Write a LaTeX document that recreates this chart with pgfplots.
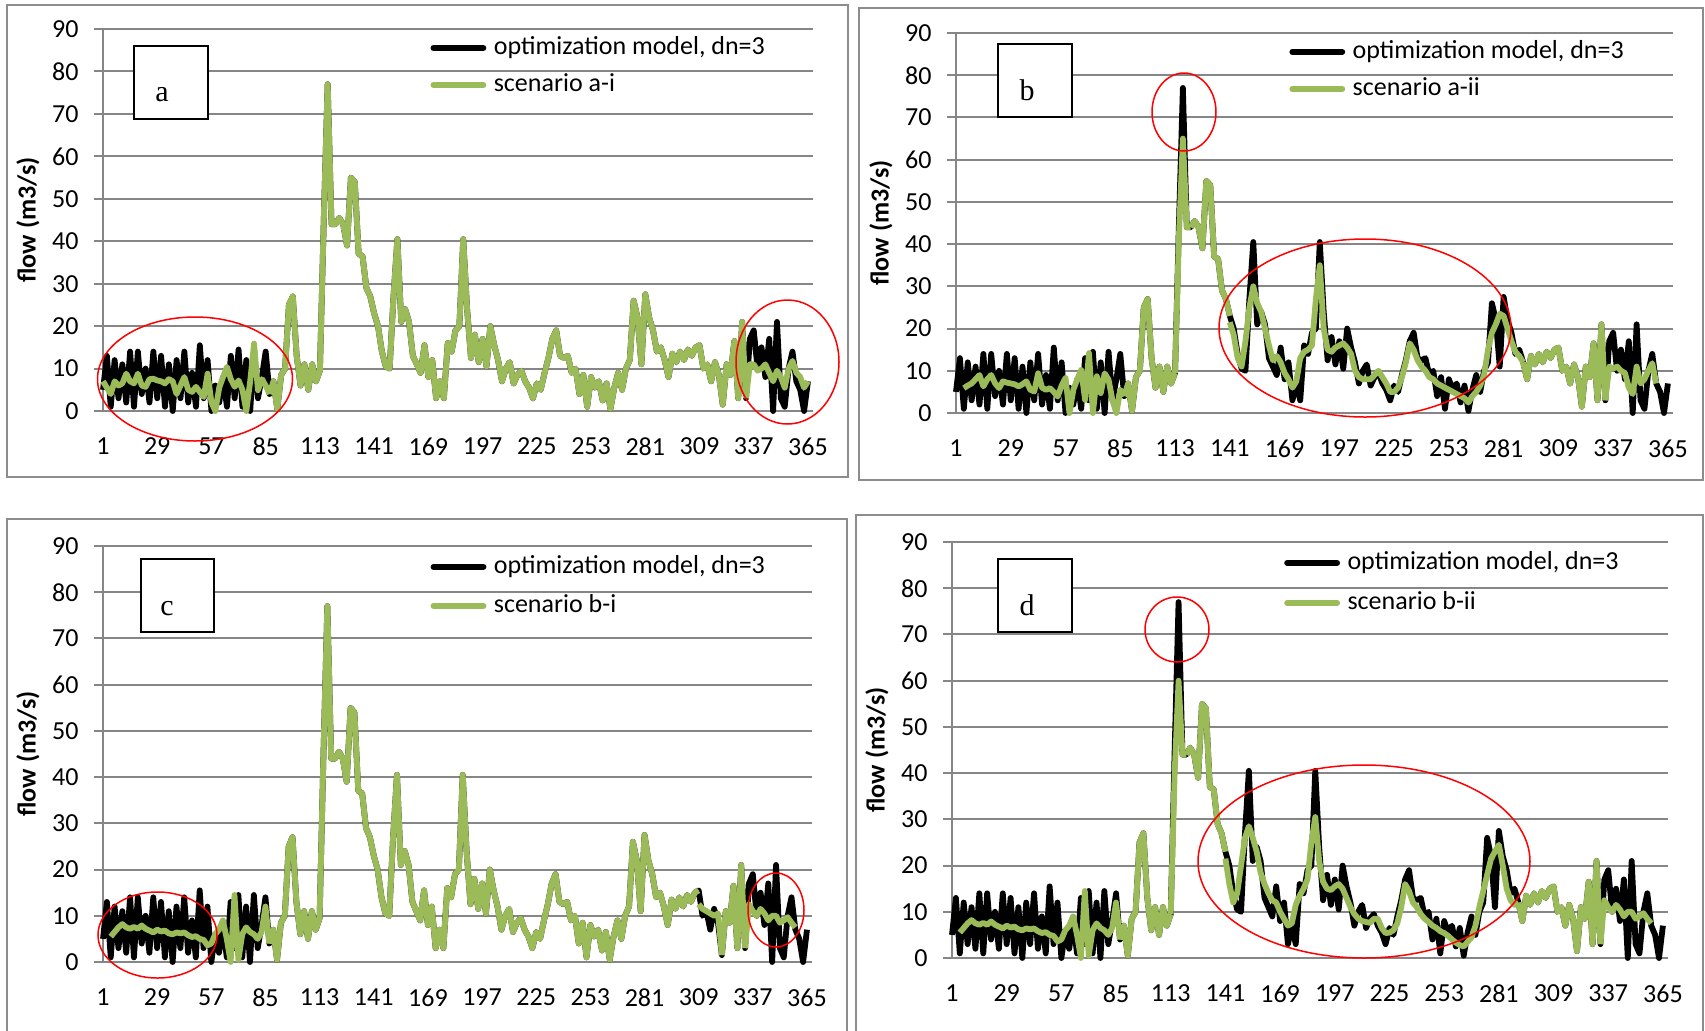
\documentclass[border=0pt]{standalone}
\usepackage{fontspec}
\setmainfont{Carlito}
\newfontfamily\tnr{Liberation Serif}
\usepackage{pgfplots}
\usepackage{pgfplotstable}
\pgfplotsset{compat=1.18}
\definecolor{grn}{RGB}{155,187,89}
\definecolor{gridgray}{RGB}{134,134,134}
\definecolor{framegray}{RGB}{140,140,140}

% optimization model, dn=3 (same in all four panels)
\pgfplotstableread{
x y
1 5
3 13
5 1
7 12
9 3
11 11
13 2
15 14
17 1
19 14
21 4
23 10
25 2
27 14
29 3
31 13
33 1
35 11
37 0
39 12
41 3
43 14
45 2
47 9
49 1
51 15.5
53 3
55 12
57 0
59 6
61 2
63 8
65 1
67 13
69 3
71 14.5
73 1
75 12
77 0
79 14.5
81 3
83 8
85 14
87 4
89 7
91 0.5
93 8.5
95 10
97 25
99 27
101 13
103 6
105 11
107 5
109 11
111 7
113 9.5
115 45
117 77
119 44
121 44
123 45.5
125 44
127 39
129 55
131 54
133 37
135 36.5
137 29
139 27
141 23
143 20
145 14
147 10.5
149 10
151 27
153 40.5
155 21
157 24
159 21
161 13
163 11
165 9
167 15.5
169 8
171 12
173 3
175 7
177 3
179 16
181 14
183 19
185 20
187 40.5
189 24
191 12.5
193 18
195 11.5
197 17
199 10.5
201 20
203 15.5
205 12
207 7
209 10
211 11.5
213 6.5
215 8.5
217 9.5
219 7
221 5.5
223 3
225 6.5
227 5
229 9
231 12.5
233 17
235 19
237 13
239 12.5
241 13
243 9
245 10
247 4
249 8.5
251 1
253 8
255 5.5
257 7
259 2.5
261 6.5
263 0.5
265 5.5
267 9
269 5
271 10
273 12
275 26
277 22
279 11
281 27.5
283 22
285 19
287 14
289 15
291 12
293 8
295 13.5
297 11.5
299 14
301 12
303 14.5
305 13
307 15
309 15.5
311 10
313 11
315 7
317 11.5
319 8.5
321 1.5
323 11
325 8.5
327 16.5
329 3
331 21
333 3
335 17
337 19
339 10
341 15
343 8
345 17
347 0
349 21
351 3
353 1
355 10
357 14
359 7
361 5
363 0
365 7
}\base

\pgfplotsset{
 panel/.style={
  scale only axis, anchor=south west, clip=false,
  xmin=1, xmax=367.6, ymin=0, ymax=90,
  xtick={1,29,...,365}, ytick={0,10,...,90},
  axis x line*=bottom, axis y line*=left,
  axis line style={gridgray, line width=1pt},
  ymajorgrids, grid style={gridgray, line width=1pt},
  tick align=outside, major tick length=4.5pt,
  major tick style={gridgray, line width=1pt},
  major x tick style={draw=none},
  tick label style={font=\fontsize{13}{15}\selectfont},
  yticklabel style={xshift=-4.2pt},
  xticklabel style={yshift=-5.5pt},
  /pgf/number format/assume math mode=true,
  ylabel={flow (m3/s)},
  every axis y label/.style={at={([xshift=-37.5pt]axis description cs:0,0.5)}, rotate=90, anchor=center, font=\fontsize{13}{15}\selectfont\bfseries},
  legend image code/.code={\draw[##1, line cap=round] (0pt,0pt) -- (25pt,0pt);},
  legend cell align=left,
  legend style={draw=none, fill=none, inner sep=0pt, outer sep=0pt, anchor=north west, column sep=3.75pt, font=\fontsize{13}{15}\selectfont, nodes={inner sep=0pt, text height=9.5pt, text depth=3pt}},
 },
 blk/.style={black, line width=2.9pt, line join=round},
 gr/.style={grn, line width=2.9pt, line join=round},
}

\begin{document}
\begin{tikzpicture}
\useasboundingbox (0,0) rectangle (852.5pt,-515pt);

% ---------------- panel a ----------------
\begin{axis}[panel, at={(51.5pt,-205.5pt)}, width=355pt, height=191pt,
  legend style={at={(axis description cs:0.4613,0.983)}, row sep=6pt}]
\addplot[blk] table {\base};
\addlegendentry{optimization model, dn=3}
\addplot[gr] coordinates {(1,7) (3,5.5) (5,4) (7,7) (9,6) (11,6.5) (13,8.8) (15,7) (17,6.5) (19,8.8) (21,6) (23,5.7) (25,7.5) (27,7.6) (29,7.2) (31,7) (33,6.5) (35,7.5) (37,7) (39,4) (41,6) (43,8) (45,5) (47,4.5) (49,5.7) (51,4.5) (53,3.3) (55,8.8) (57,2) (59,0) (61,5.5) (63,8) (65,10.4) (67,7.5) (69,5.7) (71,7.2) (73,5) (75,0) (77,7) (79,15.9) (81,4.9) (83,7.5) (85,6) (87,4)};
\addlegendentry{scenario a-i}
\addplot[gr, forget plot, restrict x to domain=87:333] table {\base};
\addplot[gr, forget plot] coordinates {(333,3) (335,11) (337,11) (339,9.5) (341,10) (343,11) (345,9) (347,7) (349,9.5) (351,8) (353,5.5) (355,10) (357,11.8) (359,9) (361,8) (363,5.5) (365,7)};
\end{axis}

% ---------------- panel b ----------------
\begin{axis}[panel, at={(478pt,-206.5pt)}, width=358.5pt, height=190pt,
  legend style={at={(axis description cs:0.465,0.983)}, row sep=6pt}]
\addplot[blk] table {\base};
\addlegendentry{optimization model, dn=3}
\addplot[gr] coordinates {(5,5.9) (7,6.5) (9,7) (11,8) (13,9) (15,6.3) (17,8) (19,9) (21,7) (23,5.9) (25,7.5) (27,7.2) (29,7) (31,6.8) (33,6.3) (35,6.8) (37,7.5) (39,5.5) (41,5.1) (43,9.4) (45,6) (47,5.5) (49,5.9) (51,5) (53,3.9) (55,6.5) (57,8.3) (59,0) (61,5.5) (63,8) (65,10.2) (67,3.1) (69,14.2) (71,0) (73,8.7) (75,4.7) (77,9.4) (79,7.9) (81,3) (83,0) (85,5.5) (87,4)};
\addlegendentry{scenario a-ii}
\addplot[gr, forget plot, restrict x to domain=87:113] table {\base};
\addplot[gr, forget plot] coordinates {(113,9.5) (115,42) (117,65) (119,44) (121,44)};
\addplot[gr, forget plot, restrict x to domain=121:141] table {\base};
\addplot[gr, forget plot] coordinates {(141,21.5) (143,18.5) (145,13) (147,11) (149,17) (151,25) (153,30) (155,26) (157,24) (159,20) (161,16) (163,12.5) (165,13.5) (167,12) (169,9.5) (171,8) (173,6) (175,7.5) (177,13) (179,14.5) (181,15) (183,16) (185,27) (187,35) (189,20) (191,15) (193,14.5) (195,15.5) (197,16) (199,16.5) (201,15.5) (203,14) (205,10) (207,8.5) (209,8) (211,8) (213,8) (215,9) (217,10) (219,8.5) (221,7) (223,5) (225,5) (227,6) (229,8.5) (231,12) (233,16.5) (235,15) (237,12.5) (239,11) (241,10) (243,8.5) (245,8) (247,7) (249,6.5) (251,6) (253,5.5) (255,5) (257,4.5) (259,4) (261,3.5) (263,2.5) (265,4) (267,5) (269,6.5) (271,9) (273,15) (275,19) (277,21) (279,23.5) (281,23) (283,20) (285,17) (287,14.5) (289,13.5) (291,12)};
\addplot[gr, forget plot, restrict x to domain=291:333] table {\base};
\addplot[gr, forget plot] coordinates {(333,3) (335,11) (337,10.5) (339,11) (341,10) (343,9.5) (345,6) (347,4.5) (349,11) (351,7) (353,8) (355,10) (357,11.8) (359,7)};
\end{axis}

% ---------------- panel c ----------------
\begin{axis}[panel, at={(51.5pt,-481pt)}, width=354.5pt, height=208pt,
  legend style={at={(axis description cs:0.462,0.980)}, row sep=7pt}]
\addplot[blk] table {\base};
\addlegendentry{optimization model, dn=3}
\addplot[gr] coordinates {(5,5.5) (7,6.5) (9,7.5) (11,8.2) (13,7.5) (15,7.2) (17,7.6) (19,7.2) (21,7.9) (23,7.2) (25,6.8) (27,6.4) (29,7) (31,6.6) (33,6.8) (35,6.2) (37,6) (39,6.4) (41,6.2) (43,6.4) (45,5.8) (47,5.4) (49,5.6) (51,5) (53,4.8) (55,3.6) (57,4) (59,6) (61,7) (63,9) (65,5) (67,0) (69,14.5) (71,0.5) (73,6) (75,7.5) (77,6.5) (79,6) (81,5) (83,6.5) (85,12) (87,4)};
\addlegendentry{scenario b-i}
\addplot[gr, forget plot, restrict x to domain=87:309] table {\base};
\addplot[gr, forget plot] coordinates {(309,12.5) (311,11.5) (313,11) (315,10.5) (317,10) (319,10.5) (321,1.5)};
\addplot[gr, forget plot, restrict x to domain=321:333] table {\base};
\addplot[gr, forget plot] coordinates {(333,3) (335,12.5) (337,11) (339,10) (341,11.5) (343,10.5) (345,9) (347,10) (349,10) (351,8.5) (353,9) (355,9.7) (357,8.5) (359,7.5)};
\end{axis}

% ---------------- panel d ----------------
\begin{axis}[panel, at={(476pt,-479pt)}, width=358pt, height=208pt,
  legend style={at={(axis description cs:0.464,0.980)}, row sep=7.5pt}]
\addplot[blk] table {\base};
\addlegendentry{optimization model, dn=3}
\addplot[gr] coordinates {(5,5.5) (7,6.5) (9,7.5) (11,8.2) (13,7.5) (15,7.2) (17,7.6) (19,7.2) (21,7.9) (23,7.2) (25,6.8) (27,6.4) (29,7) (31,6.6) (33,6.8) (35,6.2) (37,6) (39,6.4) (41,6.2) (43,6.4) (45,5.8) (47,5.4) (49,5.6) (51,5) (53,4.8) (55,3.6) (57,4) (59,6) (61,7) (63,9) (65,5) (67,0) (69,14.5) (71,0.5) (73,6) (75,7.5) (77,6.5) (79,6) (81,5) (83,6.5) (85,12) (87,4)};
\addlegendentry{scenario b-ii}
\addplot[gr, forget plot, restrict x to domain=87:113] table {\base};
\addplot[gr, forget plot] coordinates {(113,9.5) (115,40) (117,60) (119,44) (121,44)};
\addplot[gr, forget plot, restrict x to domain=121:141] table {\base};
\addplot[gr, forget plot] coordinates {(141,21.5) (143,16) (145,12) (147,14) (149,20) (151,26) (153,28.5) (155,26) (157,23) (159,18.5) (161,16) (163,14) (165,12.5) (167,12) (169,10) (171,8.5) (173,7) (175,7.5) (177,11.5) (179,13.5) (181,15) (183,17) (185,25) (187,30.5) (189,21) (191,16.5) (193,15) (195,14.7) (197,15.5) (199,16) (201,15) (203,13) (205,11) (207,9.5) (209,8.5) (211,8) (213,7.8) (215,7.6) (217,8.5) (219,8.5) (221,6.5) (223,5.4) (225,5.5) (227,6) (229,7.5) (231,11) (233,16) (235,14.5) (237,12) (239,11) (241,9.5) (243,8.5) (245,7.8) (247,7) (249,6.5) (251,5.8) (253,5.4) (255,4.8) (257,4) (259,3.3) (261,2.8) (263,2.5) (265,3.5) (267,4.5) (269,7) (271,11) (273,14.5) (275,18) (277,21.5) (279,23) (281,24.5) (283,20) (285,15) (287,12.5) (289,11.5) (291,12)};
\addplot[gr, forget plot, restrict x to domain=291:333] table {\base};
\addplot[gr, forget plot] coordinates {(333,3) (335,12.5) (337,11) (339,10) (341,11.5) (343,10.5) (345,9) (347,10) (349,10) (351,8.5) (353,9) (355,9.7) (357,8.5) (359,7.5)};
\end{axis}

% ---------------- frames, panel letters, highlight ellipses ----------------
\begin{scope}[x=0.5pt, y=-0.5pt]
\draw[framegray, line width=1pt] (7,5) rectangle (848,477);
\draw[framegray, line width=1pt] (859,8) rectangle (1703,480);
\draw[framegray, line width=1pt] (7,519) rectangle (847,1034);
\draw[framegray, line width=1pt] (856,515) rectangle (1703,1034);

\draw[black, line width=0.9pt, fill=white] (134,46) rectangle (208,119);
\draw[black, line width=0.9pt, fill=white] (998,44) rectangle (1072,117);
\draw[black, line width=0.9pt, fill=white] (141,559) rectangle (214,632);
\draw[black, line width=0.9pt, fill=white] (998,559) rectangle (1072,632);
\node[anchor=base, inner sep=0pt, font=\tnr\fontsize{15}{18}\selectfont] at (162,101.5) {a};
\node[anchor=base, inner sep=0pt, font=\tnr\fontsize{15}{18}\selectfont] at (1027,100) {b};
\node[anchor=base, inner sep=0pt, font=\tnr\fontsize{15}{18}\selectfont] at (167,615) {c};
\node[anchor=base, inner sep=0pt, font=\tnr\fontsize{15}{18}\selectfont] at (1027,615) {d};

\draw[red, line width=0.75pt] (195,379) ellipse [x radius=97.5, y radius=62];
\draw[red, line width=0.75pt] (787.5,362) ellipse [x radius=51.5, y radius=62];
\draw[red, line width=0.75pt] (1184,112) ellipse [x radius=32, y radius=39];
\draw[red, line width=0.75pt] (1365,328) ellipse [x radius=146, y radius=89];
\draw[red, line width=0.75pt] (157.5,935) ellipse [x radius=59.5, y radius=43];
\draw[red, line width=0.75pt] (776,910) ellipse [x radius=28, y radius=37];
\draw[red, line width=0.75pt] (1177,629.5) ellipse [x radius=32, y radius=32.5];
\draw[red, line width=0.75pt] (1364,861.5) ellipse [x radius=166, y radius=96.5];
\end{scope}
\end{tikzpicture}
\end{document}
